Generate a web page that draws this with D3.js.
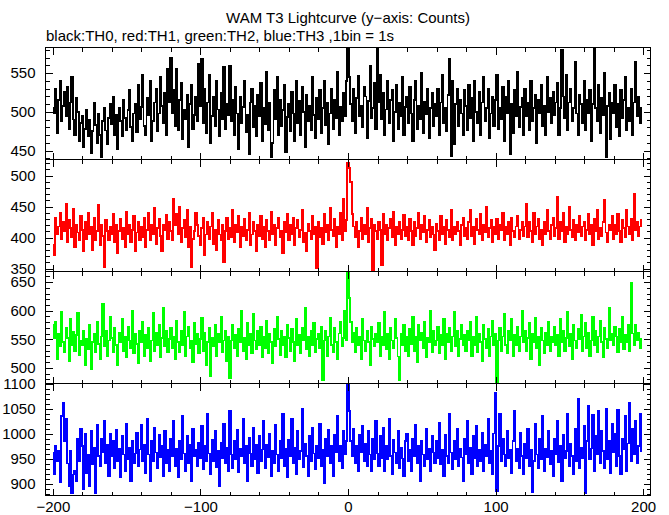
<!DOCTYPE html>
<html>
<head>
<meta charset="utf-8">
<script src="https://cdn.jsdelivr.net/npm/d3@7"></script>
<style>
  html, body { margin: 0; padding: 0; background: #fff; }
  svg { display: block; }
  text { font-family: "Liberation Sans", Arial, Helvetica, sans-serif; }
</style>
</head>
<body>
<svg id="chart" width="669" height="515"></svg>
<script>
// ---------------- DATA ----------------
const titleText = "WAM T3 Lightcurve (y\u2212axis: Counts)";
const subtitleText = "black:TH0, red:TH1, green:TH2, blue:TH3 ,1bin = 1s";
const firstBin = -200;           // time of first 1 s bin
const xTickMajor = [-200, -100, 0, 100, 200];
const xTickLabels = ["\u2212200", "\u2212100", "0", "100", "200"];

const th0 = [
505,498,530,472,515,540,488,508,526,495,532,478,512,545,490,470,518,500,462,486,
495,455,478,502,468,490,446,475,512,483,460,497,470,441,488,505,476,458,492,510,
484,520,470,496,452,505,488,468,515,492,476,502,528,480,462,498,510,474,535,490,
506,548,482,470,518,496,540,462,488,512,530,475,498,545,508,486,524,470,555,512,
570,498,528,482,556,476,515,538,465,502,490,522,455,510,535,478,496,520,488,562,
508,568,486,530,472,512,548,460,495,520,482,540,503,468,525,490,558,477,510,496,
560,488,515,470,532,498,452,520,485,506,540,474,496,445,512,530,480,508,468,522,
495,538,462,505,484,552,476,512,442,460,528,490,545,470,515,482,502,535,448,493,
510,475,526,498,462,540,486,514,470,532,500,455,522,488,508,476,545,496,466,518,
490,528,472,505,540,483,512,458,498,530,478,515,492,552,470,506,488,525,495,540,
582,545,510,488,530,472,518,546,495,508,480,532,520,466,514,560,492,505,538,478,
582,512,548,490,525,470,503,540,486,515,528,462,500,535,478,512,494,545,470,506,
520,485,532,498,462,515,540,478,508,490,550,472,513,497,530,466,505,525,482,510,
495,530,470,512,548,486,505,475,522,568,443,540,458,510,530,482,515,498,470,528,
508,476,535,492,518,462,540,500,485,526,470,512,545,488,505,530,466,498,520,482,
515,548,478,505,490,532,462,520,498,540,445,510,472,528,495,552,480,506,518,470,
530,495,512,476,540,488,505,522,460,515,498,535,482,508,470,545,500,518,485,526,
496,512,538,470,505,580,520,492,548,476,512,530,488,505,565,498,470,522,510,485,
540,476,515,498,528,462,510,582,505,488,535,472,518,496,550,442,508,525,465,512,
498,535,480,510,468,528,492,515,545,476,505,488,530,470,512,565,495,520,485,505
];
const th1 = [
388,372,432,405,418,440,398,425,410,455,392,428,415,400,446,385,420,408,395,435,
412,378,425,398,440,405,418,380,432,395,410,452,388,420,402,352,428,410,395,418,
405,438,392,420,375,410,430,398,415,385,442,405,420,392,412,435,378,408,425,396,
418,400,432,385,412,440,395,420,405,448,390,415,430,402,378,420,412,436,398,425,
410,395,462,420,438,405,450,392,415,428,400,445,385,418,352,398,410,440,420,402,
388,415,432,372,405,425,398,418,440,390,412,380,428,405,395,420,360,410,432,398,
415,400,445,392,420,408,435,385,418,402,430,396,412,440,388,405,425,410,378,420,
402,435,398,418,385,428,410,395,442,405,420,388,415,432,400,410,375,425,408,438,
395,420,405,432,388,415,428,400,412,445,392,408,378,422,410,398,435,405,418,350,
425,400,415,390,438,408,420,395,448,412,402,430,385,418,405,440,395,462,410,428,
521,512,490,438,418,400,425,385,410,432,398,420,405,448,392,415,430,348,420,410,
398,425,412,355,438,405,420,395,415,430,400,442,388,418,405,425,398,412,436,402,
418,395,430,410,388,425,402,415,440,398,420,408,435,392,412,428,400,418,405,380,
422,410,395,435,405,418,390,428,412,400,445,395,418,405,425,410,388,420,432,402,
415,398,425,445,402,418,390,430,412,405,438,395,420,408,450,400,415,428,392,418,
405,430,398,420,412,440,395,418,405,425,388,432,410,400,418,435,398,412,425,402,
418,455,400,425,410,392,440,405,418,430,398,412,388,425,405,445,410,398,420,432,
402,415,465,398,425,410,440,392,418,405,450,412,400,428,395,420,408,435,402,418,
425,395,412,438,405,420,388,430,410,445,398,415,402,425,460,408,392,420,412,435,
398,420,405,438,410,392,428,415,400,445,418,405,430,395,470,412,425,402,418,428
];
const th2 = [
575,552,580,515,560,538,598,545,528,570,552,512,585,540,563,530,558,596,522,548,
540,565,505,550,532,575,498,545,560,528,580,542,515,555,612,538,565,520,548,590,
552,528,570,540,505,562,545,585,530,555,518,572,548,535,600,525,560,542,508,565,
545,580,520,558,535,570,512,548,596,530,562,540,575,518,552,605,538,565,528,550,
570,535,555,515,582,545,528,565,540,598,520,555,572,535,548,510,578,542,560,525,
550,588,530,562,505,545,570,485,552,538,575,520,560,545,590,528,548,565,512,555,
482,548,575,535,558,520,568,545,600,530,552,515,578,540,560,525,595,548,532,565,
540,572,518,555,535,582,525,560,545,508,568,538,590,550,522,565,540,555,518,575,
552,530,568,545,512,585,540,558,525,570,548,605,532,555,520,565,540,578,528,550,
560,535,572,478,548,565,520,555,588,540,528,570,545,515,560,580,538,552,600,548,
667,622,580,545,562,528,570,540,555,515,585,548,530,565,545,505,572,550,538,560,
545,578,520,555,540,598,532,560,515,570,548,535,585,552,520,478,560,540,575,530,
555,520,568,542,590,530,555,510,575,548,562,535,580,518,552,545,600,528,565,540,
548,572,525,558,540,585,515,560,545,570,530,555,598,538,565,520,550,575,540,558,
530,565,548,580,520,555,540,590,528,560,545,512,575,550,535,568,520,555,582,540,
560,475,548,570,530,555,595,540,525,565,548,585,520,558,540,572,530,555,600,545,
565,530,552,578,515,560,545,588,535,555,505,570,548,525,562,540,580,530,555,545,
572,540,558,520,585,545,565,530,552,598,538,560,515,575,548,535,568,550,592,530,
555,578,535,562,520,548,590,540,565,528,555,582,545,518,570,550,535,605,548,560,
540,572,555,528,568,545,590,532,558,545,575,530,648,560,540,575,548,562,535,550
];
const th3 = [
962,918,975,945,965,902,1035,1062,985,1030,940,895,965,880,918,925,905,990,945,1010,
975,888,1000,920,958,895,1005,938,972,880,1018,955,935,990,962,1025,940,978,915,1000,
955,985,930,1008,945,970,912,995,958,925,1020,948,972,905,985,940,960,1002,935,968,
1018,945,978,920,1030,958,905,985,945,1012,962,930,998,952,975,915,1005,940,968,925,
990,955,1025,935,970,912,985,948,1035,960,925,995,940,978,905,1010,955,968,935,982,
950,1015,928,975,945,1040,960,918,988,945,1005,932,965,895,982,950,1020,940,972,925,
1045,958,930,985,948,1008,922,970,955,1030,940,975,905,992,960,935,1012,948,978,920,
995,945,968,1025,930,978,952,1000,915,965,940,1018,958,925,985,950,1040,935,970,912,
988,955,1030,940,972,918,1005,948,965,1050,932,980,955,915,995,945,1012,960,928,975,
950,1020,935,968,900,990,955,1008,940,975,915,998,962,1035,945,975,930,1005,958,985,
1098,1045,985,955,1010,940,975,925,998,962,1015,945,980,935,1005,958,925,990,948,1025,
960,935,995,950,1012,925,975,948,1030,955,918,988,962,940,1005,930,972,950,915,985,
1000,945,968,925,990,955,1018,940,975,905,985,958,935,1010,948,970,925,995,962,940,
985,950,1022,938,968,915,998,955,940,1040,962,928,985,948,1010,935,970,952,905,990,
958,1025,940,972,918,995,950,1015,935,968,945,1002,925,978,955,1030,940,965,918,1000,
1082,885,975,1040,945,990,958,935,1005,950,968,920,985,1045,945,970,930,1002,955,918,
980,950,1010,935,968,882,945,1020,958,930,990,948,1035,925,970,952,1005,938,965,915,
990,958,1025,942,975,905,998,950,965,1040,935,980,955,918,1010,945,1070,930,972,950,
1015,880,985,1055,948,970,1038,925,995,958,1045,940,1005,965,930,1050,948,985,920,1020,
962,1000,935,1048,955,918,990,968,1035,925,980,1062,945,1010,958,1025,940,975,1040,965
];
const seriesColors = ["#000000", "#ff0000", "#00ff00", "#0000ff"];
const yTickMajors = [[450, 500, 550], [350, 400, 450, 500], [500, 550, 600, 650], [900, 950, 1000, 1050, 1100]];

// ---------------- LAYOUT ----------------
const W = 669, H = 515;
const left = 45.5, right = 650.5;
const panelTops = [47.5, 159.5, 271.5, 383.5];
const panelH = 112;
const yDomains = [[438.4, 583.2], [345.2, 525.8], [472.5, 668.7], [876, 1100]];

const svg = d3.select("#chart");
svg.append("rect").attr("width", W).attr("height", H).attr("fill", "#fff");

const x = d3.scaleLinear().domain([-205, 205]).range([left, right]);
const xMinor = d3.range(-200, 201, 20).filter(v => !xTickMajor.includes(v));

svg.append("text").attr("x", (left + right) / 2).attr("y", 23)
  .attr("text-anchor", "middle").attr("font-size", 15).text(titleText);
svg.append("text").attr("x", 46).attr("y", 41)
  .attr("font-size", 15).text(subtitleText);

const allSeries = [th0, th1, th2, th3];

allSeries.forEach((vals, p) => {
  const top = panelTops[p], bottom = top + panelH;
  const y = d3.scaleLinear().domain(yDomains[p]).range([bottom, top]);
  const g = svg.append("g");

  const clipId = "clip" + p;
  svg.append("clipPath").attr("id", clipId).append("rect")
    .attr("x", left).attr("y", top).attr("width", right - left).attr("height", panelH);

  const line = d3.line()
    .x((d, i) => x(firstBin + i))
    .y(d => y(d))
    .curve(d3.curveStep);
  g.append("path").datum(vals)
    .attr("d", line)
    .attr("fill", "none")
    .attr("stroke", seriesColors[p])
    .attr("stroke-width", 1.7)
    .attr("stroke-linejoin", "miter")
    .attr("shape-rendering", "crispEdges")
    .attr("clip-path", "url(#" + clipId + ")");

  const majors = yTickMajors[p];
  const d0 = yDomains[p][0], d1 = yDomains[p][1];
  const yMinor = d3.range(Math.ceil(d0 / 10) * 10, d1 + 0.01, 10).filter(v => !majors.includes(v));

  function styleAxis(sel) {
    sel.select(".domain").remove();
    sel.selectAll("line").attr("stroke", "#000").attr("shape-rendering", "crispEdges");
    sel.selectAll("text").attr("font-size", 15).attr("fill", "#000")
      .style("font-family", '"Liberation Sans", Arial, sans-serif');
  }

  // left
  g.append("g").attr("transform", `translate(${left},0)`)
    .call(d3.axisLeft(y).tickValues(majors).tickSize(-7).tickPadding(10).tickSizeOuter(0).tickFormat(d3.format("d")))
    .call(styleAxis);
  g.append("g").attr("transform", `translate(${left},0)`)
    .call(d3.axisLeft(y).tickValues(yMinor).tickSize(-4).tickFormat("").tickSizeOuter(0))
    .call(styleAxis);
  // right
  g.append("g").attr("transform", `translate(${right},0)`)
    .call(d3.axisRight(y).tickValues(majors).tickSize(-7).tickFormat("").tickSizeOuter(0))
    .call(styleAxis);
  g.append("g").attr("transform", `translate(${right},0)`)
    .call(d3.axisRight(y).tickValues(yMinor).tickSize(-4).tickFormat("").tickSizeOuter(0))
    .call(styleAxis);
  // top
  g.append("g").attr("transform", `translate(0,${top})`)
    .call(d3.axisTop(x).tickValues(xTickMajor).tickSize(-7).tickFormat("").tickSizeOuter(0))
    .call(styleAxis);
  g.append("g").attr("transform", `translate(0,${top})`)
    .call(d3.axisTop(x).tickValues(xMinor).tickSize(-4).tickFormat("").tickSizeOuter(0))
    .call(styleAxis);
  // bottom
  const bAx = d3.axisBottom(x).tickValues(xTickMajor).tickSize(-7).tickPadding(6).tickSizeOuter(0)
    .tickFormat((d, i) => p === 3 ? xTickLabels[i] : "");
  g.append("g").attr("transform", `translate(0,${bottom})`).call(bAx).call(styleAxis);
  g.append("g").attr("transform", `translate(0,${bottom})`)
    .call(d3.axisBottom(x).tickValues(xMinor).tickSize(-4).tickFormat("").tickSizeOuter(0))
    .call(styleAxis);

  // frame
  g.append("rect").attr("x", left).attr("y", top)
    .attr("width", right - left).attr("height", panelH)
    .attr("fill", "none").attr("stroke", "#000").attr("stroke-width", 1)
    .attr("shape-rendering", "crispEdges");
});
</script>
</body>
</html>
